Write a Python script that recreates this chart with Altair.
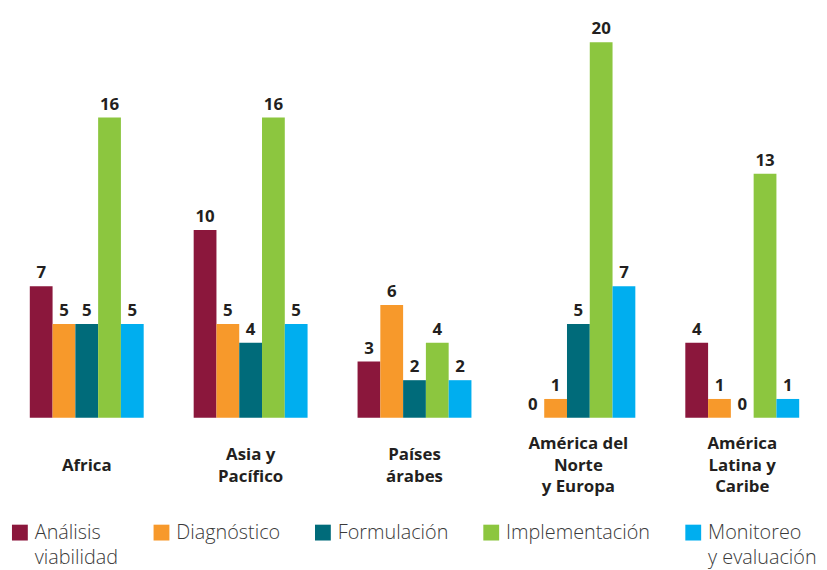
import altair as alt
import pandas as pd

regions = ["Africa", "Asia y\nPacífico", "Países\nárabes", "América del\nNorte\ny Europa", "América\nLatina y\nCaribe"]
stages = ["Análisis\nviabilidad", "Diagnóstico", "Formulación", "Implementación", "Monitoreo\ny evaluación"]
colors = ["#8B173C", "#F7992B", "#006B7A", "#8CC63F", "#00AEEF"]

analisis = [7, 10, 3, 0, 4]
diagnostico = [5, 5, 6, 1, 1]
formulacion = [5, 4, 2, 5, 0]
implementacion = [16, 16, 4, 20, 13]
monitoreo = [5, 5, 2, 7, 1]

series = [analisis, diagnostico, formulacion, implementacion, monitoreo]
rows = []
for s, vals in zip(stages, series):
    for r, v in zip(regions, vals):
        rows.append({"region": r, "stage": s, "value": v})
df = pd.DataFrame(rows)

FONT = "Open Sans"
SP = "\u200b"  # zero-width space used as an invisible spacer line

# centre multi-line category labels vertically: half-height lines with spacer lines between
n_lines = "length(split(datum.label, '\\n'))"
axis_label_expr = (
    f"split(({n_lines} == 1 ? '{SP}\\n{SP}\\n' : {n_lines} == 2 ? '{SP}\\n' : '') + "
    f"replace(datum.label, regexp('\\n', 'g'), '\\n{SP}\\n'), '\\n')"
)

base = alt.Chart(df).encode(
    x=alt.X(
        "region:N",
        sort=regions,
        scale=alt.Scale(paddingInner=0.305, paddingOuter=0.0695, align=0.957),
        axis=alt.Axis(
            title=None,
            labelExpr=axis_label_expr,
            labelAngle=0,
            domain=False,
            ticks=False,
            tickSize=0,
            labelFont=FONT,
            labelFontSize=17,
            labelFontWeight="bold",
            labelColor="#231f20",
            labelPadding=26,
            labelBaseline="middle",
            labelLineHeight=11,
        ),
    ),
    xOffset=alt.XOffset("stage:N", sort=stages, scale=alt.Scale(paddingInner=0, paddingOuter=0)),
    y=alt.Y("value:Q", scale=alt.Scale(domain=[0, 21.42], nice=False), axis=None),
)

bars = base.mark_bar().encode(
    color=alt.Color(
        "stage:N",
        sort=stages,
        scale=alt.Scale(domain=stages, range=colors),
        legend=alt.Legend(
            title=None,
            orient="none",
            legendX=2,
            legendY=512,
            direction="horizontal",
            columns=5,
            symbolType="square",
            symbolSize=256,
            symbolStrokeWidth=0,
            labelFont=FONT,
            labelFontSize=20,
            labelFontWeight=300,
            labelColor="#3a3a3a",
            labelExpr="split(datum.label, '\\n')",
            labelLimit=300,
            columnPadding=33,
            labelOffset=5,
            labelBaseline="middle",
            padding=0,
            gridAlign="none",
        ),
    )
)

labels = base.mark_text(
    dy=-8, baseline="alphabetic", fontSize=17, fontWeight="bold", font=FONT, color="#231f20"
).encode(text="value:Q")

chart = (
    alt.layer(bars, labels)
    .properties(
        width=800,
        height=406,
        padding={"top": 5, "left": 0, "right": 19, "bottom": 151},
        autosize=alt.AutoSizeParams(type="none"),
    )
    .configure(style={"guide-label": {"lineHeight": 26}})
    .configure_view(stroke=None)
)

chart.save("out.html", embed_options={"renderer": "svg", "actions": False})
